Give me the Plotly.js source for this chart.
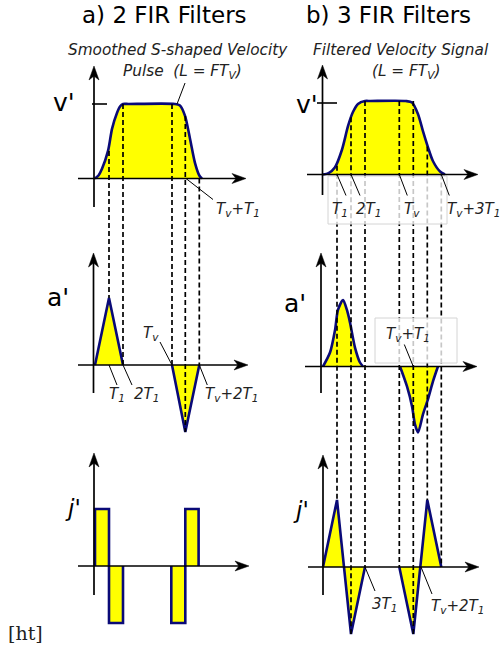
<!DOCTYPE html>
<html><head><meta charset="utf-8">
<script src="https://cdn.plot.ly/plotly-3.0.1.min.js"></script>
<style>html,body{margin:0;padding:0;background:#fff}#chart{width:501px;height:650px}</style>
</head><body><div id="chart"></div>
<script>
// ---------------- data (time in units of T1, values normalised) ----------------
// a) 2 FIR filters
const velA_t  = [0, 0.25, 0.5, 0.93, 1.22, 1.57, 1.8, 2, 2.4, 5.7, 6.07, 6.43, 6.79, 7.14, 7.45, 7.64];
const velA_v  = [0, 0.04, 0.13, 0.37, 0.67, 0.88, 0.97, 1, 1, 1, 0.98, 0.84, 0.53, 0.21, 0.04, 0];
const accA_t  = [0, 1, 2, null, 5.5, 6.45, 7.45];
const accA_v  = [0, 1, 0, null, 0, -1, 0];
const jerkA_t = [0, 0, 1, 1, 2, 2, null, 5.45, 5.45, 6.45, 6.45, 7.4, 7.4];
const jerkA_v = [0, 1, 1, -1, -1, 0, null, 0, -1, -1, 1, 1, 0];
const guideA_t   = [1, 2, 5.5, 6.45, 7.45];
const guideA_top = [0.37, 1, 1, 0.84, 0];     // on v'
const guideA_end = [1, 0, 0, -1, 0];          // on a'
// b) 3 FIR filters
const velB_t  = [0, 0.4, 0.86, 1.36, 1.79, 2.14, 2.5, 3, 3.4, 5.9, 6.36, 6.79, 7.14, 7.5, 7.86, 8.36, 8.71];
const velB_v  = [0, 0.02, 0.1, 0.34, 0.66, 0.85, 0.96, 1, 1, 1, 0.98, 0.82, 0.59, 0.37, 0.18, 0.04, 0];
const accB_t  = [0, 0.5, 0.86, 1.07, 1.43, 1.71, 1.93, 2.29, 2.64, 2.86, null, 5.5, 6.0, 6.36, 6.57, 6.79, 7.14, 7.5, 7.86, 8.21];
const accB_v  = [0, 0.21, 0.55, 0.85, 1, 0.85, 0.66, 0.28, 0.06, 0, null, 0, -0.3, -0.6, -0.87, -0.99, -0.72, -0.49, -0.22, 0];
const jerkB_t = [0, 1, 2, 3, null, 5.45, 6.45, 7.45, 8.45];
const jerkB_v = [0, 1, -1, 0, null, 0, -1, 1, 0];
const guideB_t   = [1, 2, 3, 5.45, 6.45, 7.45, 8.45];
const guideB_top = [0.12, 0.78, 1, 1, 1, 0.38, 0];   // on v'
const guideB_end = [1, -1, 0, 0, -1, 1, 0];          // on j'

// ---------------- layout geometry ----------------
const W = 501, H = 650, U = 14;
const FONT = 'DejaVu Sans, Verdana, sans-serif';
const NAVY = '#0a0a78', YEL = '#ffff00';
const cols = { A: {x0: 95, xa: 'x'}, B: {x0: 323, xa: 'x2'} };
const P = {
  Av: {col: 'A', ya: 'y',  base: 178.5, h: 74.5},
  Aa: {col: 'A', ya: 'y2', base: 365,   h: 67},
  Aj: {col: 'A', ya: 'y3', base: 566,   h: 57},
  Bv: {col: 'B', ya: 'y4', base: 174.5, h: 73.5},
  Ba: {col: 'B', ya: 'y5', base: 366.5, h: 66.5},
  Bj: {col: 'B', ya: 'y6', base: 567,   h: 67}
};
const paperY = (p, v) => 1 - (p.base - v * p.h) / H;
const px2pX = px => px / W, px2pY = py => 1 - py / H;

function curve(p, t, v, shape) {
  return {x: t, y: v, xaxis: cols[p.col].xa, yaxis: p.ya, mode: 'lines',
    line: {color: NAVY, width: 2.6, shape: shape, smoothing: 0.75},
    fill: 'tozeroy', fillcolor: YEL, hoverinfo: 'skip', connectgaps: false};
}
const data = [
  curve(P.Av, velA_t, velA_v, 'spline'),
  curve(P.Aa, accA_t, accA_v, 'linear'),
  curve(P.Aj, jerkA_t, jerkA_v, 'linear'),
  curve(P.Bv, velB_t, velB_v, 'spline'),
  curve(P.Ba, accB_t, accB_v, 'spline'),
  curve(P.Bj, jerkB_t, jerkB_v, 'linear')
];

const ann = [];
function txt(text, px, py, size, font) {
  ann.push({xref: 'paper', yref: 'paper', x: px / W, y: 1 - py / H,
    xanchor: 'center', yanchor: 'middle', showarrow: false, text: text,
    font: Object.assign({family: FONT, size: size, color: '#000'}, font || {})});
}
function itxt(text, px, py, size) { txt(text, px, py, size, {color: '#222', style: 'italic'}); }

const shapes = [];
function pxLine(x0, y0, x1, y1, w, color, dash) {
  shapes.push({type: 'line', layer: 'above', xref: 'paper', yref: 'paper',
    x0: px2pX(x0), x1: px2pX(x1), y0: px2pY(y0), y1: px2pY(y1),
    line: {color: color || '#000', width: w || 1.6, dash: dash || 'solid'}});
}
function pxPath(pts) {
  const d = 'M' + pts.map(q => px2pX(q[0]).toFixed(5) + ',' + px2pY(q[1]).toFixed(5)).join('L') + 'Z';
  shapes.push({type: 'path', layer: 'above', xref: 'paper', yref: 'paper', path: d,
    fillcolor: '#000', line: {color: '#000', width: 0.5}});
}
// axis with arrow head: dir 'r' (tip at right) or 'u' (tip at top)
function axisArrow(x0, y0, x1, y1, dir) {
  const L = 14, hw = 5, notch = 4;
  if (dir === 'r') {
    pxLine(x0, y0, x1 - L + notch, y1, 1.7);
    pxPath([[x1, y1], [x1 - L, y1 - hw], [x1 - L + notch, y1], [x1 - L, y1 + hw]]);
  } else {
    pxLine(x0, y0, x1, y1 + L - notch, 1.7);
    pxPath([[x1, y1], [x1 - hw, y1 + L], [x1, y1 + L - notch], [x1 + hw, y1 + L]]);
  }
}
const axes = {
  Av: {xl: 78, xr: 246, yx: 94,  yb: 207, yt: 66},
  Aa: {xl: 78, xr: 248, yx: 93.5,yb: 393, yt: 253},
  Aj: {xl: 78, xr: 249, yx: 94,  yb: 595, yt: 453},
  Bv: {xl: 307, xr: 478, yx: 322.5, yb: 195, yt: 65},
  Ba: {xl: 305, xr: 477, yx: 321, yb: 393, yt: 253},
  Bj: {xl: 308, xr: 479, yx: 323, yb: 595, yt: 455}
};

// guide (dashed) lines: from v' curve down to a' (a) or j' (b)
function guides(colKey, topP, endP, ts, tops, ends) {
  ts.forEach((t, i) => shapes.push({type: 'line', layer: 'above', xref: cols[colKey].xa, yref: 'paper',
    x0: t, x1: t, y0: paperY(topP, tops[i]), y1: paperY(endP, ends[i]),
    line: {color: '#000', width: 1.7, dash: '5px,3px'}}));
}
guides('A', P.Av, P.Aa, guideA_t, guideA_top, guideA_end);
guides('B', P.Bv, P.Bj, guideB_t, guideB_top, guideB_end);

// label boxes (semi-transparent) over the guide lines
function box(x0, y0, x1, y1) {
  shapes.push({type: 'rect', layer: 'above', xref: 'paper', yref: 'paper',
    x0: px2pX(x0), x1: px2pX(x1), y0: px2pY(y0), y1: px2pY(y1),
    fillcolor: 'rgba(255,255,255,0.78)', line: {color: '#d4d4d4', width: 1}});
}
box(328, 176, 447, 224);
box(375, 318, 457, 363);

Object.keys(axes).forEach(k => {
  const a = axes[k], p = P[k];
  axisArrow(a.xl, p.base, a.xr, p.base, 'r');
  axisArrow(a.yx, a.yb, a.yx, a.yt, 'u');
});
// v' tick marks
pxLine(92, 104, 107, 104, 1.6);
pxLine(317, 103, 337, 103, 1.6);

// leader lines from a data point (t, v) with pixel offsets
function leader(p, t, v, dx, dy) {
  shapes.push({type: 'line', layer: 'above', xref: cols[p.col].xa, yref: p.ya,
    x0: t, y0: v, x1: t + dx / U, y1: v - dy / p.h, line: {color: '#000', width: 1}});
}
leader(P.Av, 5.86, 1, 8, -21);
leader(P.Av, 6.5, 0, 27, 21);
leader(P.Bv, 1, 0, 9, 21);
leader(P.Bv, 2, 0, 9, 21);
leader(P.Bv, 5.45, 0, 8, 21);
leader(P.Bv, 8.45, 0, 8, 21);
leader(P.Aa, 1, 0, 8, 20);
leader(P.Aa, 2, 0, 9, 20);
leader(P.Aa, 5.5, 0, -12, -23);
leader(P.Aa, 7.45, 0, 8, 20);
leader(P.Ba, 6.45, 0, -9, -22);
leader(P.Bj, 3, 0, 10, 24);
leader(P.Bj, 7, 0, 11, 27);

// titles & labels
txt('a) 2 FIR Filters', 164, 15, 23);
txt('b) 3 FIR Filters', 388, 15, 23);
itxt('Smoothed S-shaped Velocity', 177.5, 50, 15.3);
itxt('Pulse  (L = FT<sub>V</sub>)', 182, 72, 15.3);
itxt('Filtered Velocity Signal', 401, 50, 15.3);
itxt('(L = FT<sub>V</sub>)', 406, 72, 15.3);
txt("v'", 64, 103, 25); txt("a'", 58, 297, 25);
txt("j'", 73, 508, 23, {style: 'italic'});
txt("v'", 307, 104, 25); txt("a'", 295, 304, 25);
txt("j'", 301, 510, 23, {style: 'italic'});
itxt('T<sub>v</sub>+T<sub>1</sub>', 238, 209, 15);
itxt('T<sub>1</sub>', 340, 209, 15);
itxt('2T<sub>1</sub>', 368, 209, 15);
itxt('T<sub>v</sub>', 412, 209, 15);
itxt('T<sub>v</sub>+3T<sub>1</sub>', 473, 209, 15);
itxt('T<sub>1</sub>', 117, 395, 15);
itxt('2T<sub>1</sub>', 146, 395, 15);
itxt('T<sub>v</sub>', 151, 333, 15);
itxt('T<sub>v</sub>+2T<sub>1</sub>', 231, 395, 15);
itxt('T<sub>v</sub>+T<sub>1</sub>', 408, 334, 15);
itxt('3T<sub>1</sub>', 384, 604, 15);
itxt('T<sub>v</sub>+2T<sub>1</sub>', 457, 606, 15);
txt('[ht]', 25, 633, 19, {family: 'DejaVu Serif, Liberation Serif, serif', color: '#222'});

const layout = {
  width: W, height: H, margin: {l: 0, r: 0, t: 0, b: 0},
  paper_bgcolor: '#fff', plot_bgcolor: 'rgba(0,0,0,0)', showlegend: false,
  xaxis:  {range: [-cols.A.x0 / U, (W - cols.A.x0) / U], visible: false, fixedrange: true},
  xaxis2: {range: [-cols.B.x0 / U, (W - cols.B.x0) / U], visible: false, fixedrange: true, overlaying: 'x'},
  annotations: ann, shapes: shapes
};
Object.keys(P).forEach((k, i) => {
  const p = P[k];
  const ax = {range: [(p.base - H) / p.h, p.base / p.h], visible: false, fixedrange: true};
  if (i > 0) ax.overlaying = 'y';
  layout[i === 0 ? 'yaxis' : 'yaxis' + (i + 1)] = ax;
});

Plotly.newPlot('chart', data, layout, {displayModeBar: false, staticPlot: true});
</script>
</body></html>
